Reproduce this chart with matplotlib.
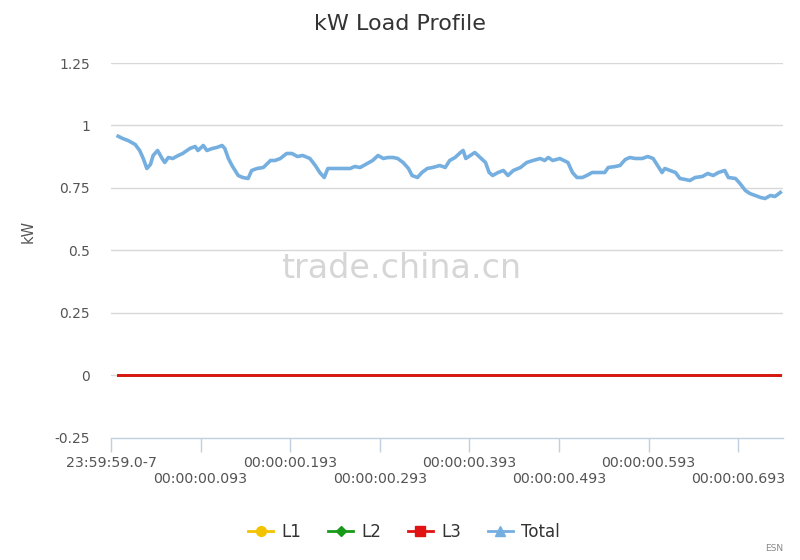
import matplotlib
matplotlib.use("Agg")
import matplotlib.pyplot as plt
from matplotlib.lines import Line2D

# time in seconds after 00:00:00.000 (first tick sits at -0.007)
t_total = [0.001, 0.006, 0.012, 0.020, 0.025, 0.029, 0.033, 0.037, 0.040, 0.045,
           0.050, 0.053, 0.057, 0.062, 0.068, 0.073, 0.081, 0.087, 0.090, 0.096,
           0.100, 0.106, 0.111, 0.117, 0.120, 0.124, 0.128, 0.135, 0.140, 0.146,
           0.150, 0.156, 0.163, 0.171, 0.176, 0.182, 0.189, 0.195, 0.201, 0.207,
           0.215, 0.221, 0.226, 0.231, 0.235, 0.243, 0.249, 0.252, 0.260, 0.265,
           0.271, 0.279, 0.285, 0.291, 0.297, 0.302, 0.308, 0.313, 0.319, 0.325,
           0.329, 0.335, 0.340, 0.346, 0.352, 0.360, 0.366, 0.371, 0.377, 0.383,
           0.386, 0.389, 0.394, 0.399, 0.405, 0.411, 0.415, 0.419, 0.425, 0.431,
           0.436, 0.442, 0.450, 0.457, 0.464, 0.472, 0.477, 0.481, 0.486, 0.494,
           0.496, 0.503, 0.508, 0.513, 0.519, 0.524, 0.530, 0.537, 0.544, 0.548,
           0.556, 0.561, 0.567, 0.572, 0.578, 0.586, 0.592, 0.598, 0.603, 0.608,
           0.611, 0.617, 0.623, 0.628, 0.634, 0.639, 0.645, 0.653, 0.659, 0.665,
           0.671, 0.678, 0.682, 0.690, 0.695, 0.701, 0.706, 0.712, 0.718, 0.723,
           0.729, 0.734, 0.740]
total_kw = [0.957, 0.948, 0.940, 0.924, 0.900, 0.868, 0.828, 0.844, 0.880, 0.900,
            0.868, 0.852, 0.872, 0.868, 0.880, 0.888, 0.908, 0.916, 0.900, 0.920,
            0.900, 0.908, 0.912, 0.920, 0.908, 0.868, 0.840, 0.800, 0.792, 0.788,
            0.820, 0.828, 0.832, 0.860, 0.860, 0.868, 0.888, 0.888, 0.876, 0.880,
            0.868, 0.840, 0.812, 0.792, 0.828, 0.828, 0.828, 0.828, 0.828, 0.836,
            0.832, 0.848, 0.860, 0.880, 0.868, 0.872, 0.872, 0.868, 0.852, 0.828,
            0.800, 0.792, 0.812, 0.828, 0.832, 0.840, 0.832, 0.860, 0.872, 0.892,
            0.900, 0.868, 0.880, 0.892, 0.872, 0.852, 0.812, 0.800, 0.812, 0.820,
            0.800, 0.820, 0.832, 0.852, 0.860, 0.868, 0.860, 0.872, 0.860, 0.868,
            0.864, 0.852, 0.812, 0.792, 0.792, 0.800, 0.812, 0.812, 0.812, 0.832,
            0.836, 0.840, 0.864, 0.872, 0.868, 0.868, 0.876, 0.868, 0.840, 0.812,
            0.828, 0.820, 0.812, 0.788, 0.784, 0.780, 0.792, 0.796, 0.808, 0.800,
            0.812, 0.820, 0.792, 0.788, 0.768, 0.740, 0.728, 0.720, 0.712, 0.708,
            0.720, 0.716, 0.732]

t_phase = [0.001, 0.740]
l1_kw = [0.0, 0.0]
l2_kw = [0.0, 0.0]
l3_kw = [0.0, 0.0]

tick_pos = [-0.007, 0.093, 0.193, 0.293, 0.393, 0.493, 0.593, 0.693]
tick_labels = ["23:59:59.0-7", "00:00:00.093", "00:00:00.193", "00:00:00.293",
               "00:00:00.393", "00:00:00.493", "00:00:00.593", "00:00:00.693"]
y_ticks = [-0.25, 0, 0.25, 0.5, 0.75, 1, 1.25]
y_labels = ["-0.25", "0", "0.25", "0.5", "0.75", "1", "1.25"]

c_l1 = "#f3c300"
c_l2 = "#189a18"
c_l3 = "#e31212"
c_tot = "#75afe0"

fig = plt.figure(figsize=(8, 5.6), dpi=100)
ax = fig.add_axes([0.13875, 0.2179, 0.84, 0.6696])

ax.plot(t_total, total_kw, color=c_tot, lw=2.6, solid_joinstyle="round", zorder=4)
ax.plot(t_phase, l1_kw, color=c_l1, lw=2, zorder=3)
ax.plot(t_phase, l2_kw, color=c_l2, lw=2, zorder=3)
ax.plot(t_phase, l3_kw, color=c_l3, lw=2, zorder=3)

ax.set_xlim(-0.007, 0.743)
ax.set_ylim(-0.25, 1.25)

ax.set_yticks(y_ticks)
ax.set_yticklabels(y_labels)
for y in y_ticks[1:]:
    ax.axhline(y, color="#d8d8d8", lw=1, zorder=1)

ax.set_xticks(tick_pos)
ax.set_xticklabels([lab if i % 2 == 0 else "\n" + lab for i, lab in enumerate(tick_labels)])

for s in ["top", "right", "left"]:
    ax.spines[s].set_visible(False)
ax.spines["bottom"].set_color("#c0d0e0")
ax.spines["bottom"].set_linewidth(1)

ax.tick_params(axis="x", length=10, color="#c0d0e0", width=1, pad=3,
               labelsize=10.2, labelcolor="#555555")
ax.tick_params(axis="y", length=0, pad=15, labelsize=10, labelcolor="#555555")

ax.set_ylabel("kW", fontsize=10.5, color="#555555")
ax.yaxis.set_label_coords(-0.112, 0.55)

fig.text(0.5, 0.957, "kW Load Profile", ha="center", va="center",
         fontsize=16, color="#333333")

fig.text(0.502, 0.52, "trade.china.cn", ha="center", va="center",
         fontsize=24, color="#d6d6d6", zorder=0)

handles = [
    Line2D([], [], color=c_l1, lw=2, marker="o", markersize=7),
    Line2D([], [], color=c_l2, lw=2, marker="D", markersize=5.5),
    Line2D([], [], color=c_l3, lw=2, marker="s", markersize=6.5),
    Line2D([], [], color=c_tot, lw=2, marker="^", markersize=7),
]
fig.legend(handles, ["L1", "L2", "L3", "Total"], loc="center",
           bbox_to_anchor=(0.505, 0.05), ncol=4, frameon=False, fontsize=12,
           handlelength=1.5, handletextpad=0.5, columnspacing=1.6,
           labelcolor="#333333")

fig.text(0.979, 0.02, "ESN", ha="right", va="center", fontsize=6.5, color="#888888")

fig.savefig("out.png", dpi=100, facecolor="white")
